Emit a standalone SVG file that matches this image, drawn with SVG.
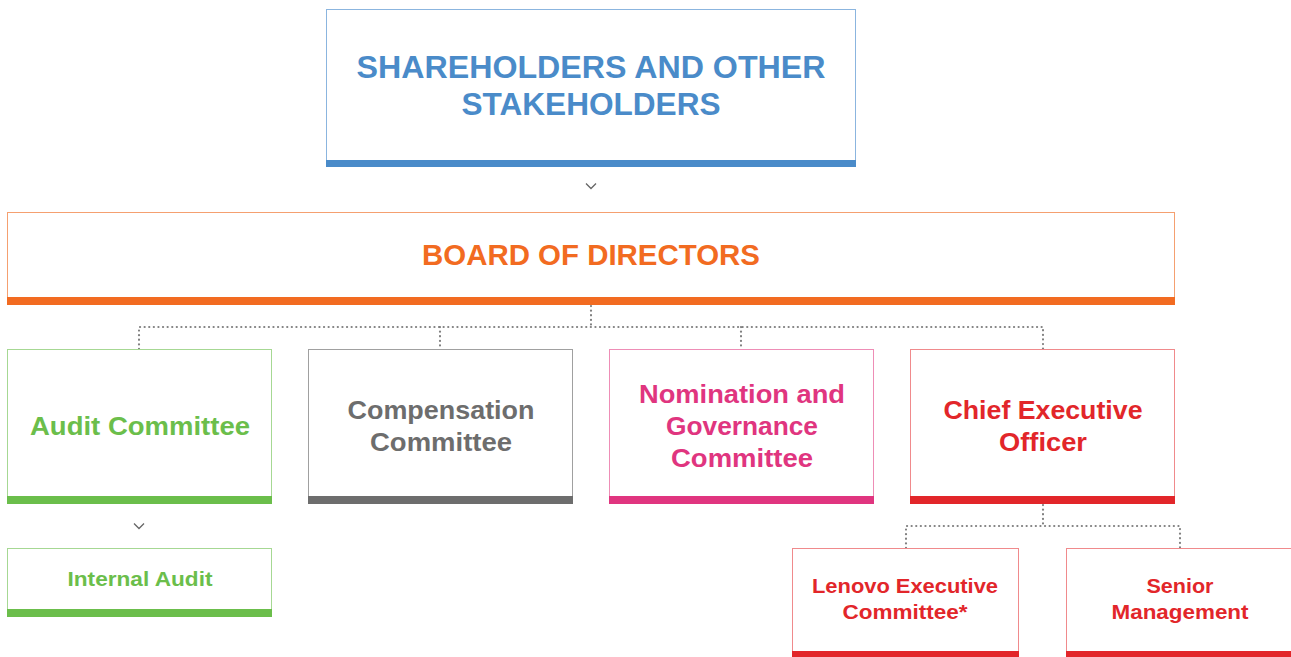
<svg xmlns="http://www.w3.org/2000/svg" width="1291" height="657" viewBox="0 0 1291 657">
<style>
text{font-family:"Liberation Sans",Arial,sans-serif;font-weight:bold;text-anchor:middle}
.dot{fill:none;stroke:#808080;stroke-width:2.2;stroke-dasharray:0.1 4.5;stroke-linecap:round}
.chev{fill:none;stroke:#666;stroke-width:1.3}
</style>
<rect width="1291" height="657" fill="#fff"/>
<g id="connectors">
<path class="dot" d="M591 306V327M139 349V327H1043V349M440 327V349M741 327V349"/>
<path class="dot" d="M1043 505V526M906 548V526H1180V548"/>
<path class="chev" d="M586 183.5L591 188.5L596 183.5"/>
<path class="chev" d="M134 523.5L139 528.5L144 523.5"/>
</g>
<g id="shareholders">
<rect x="326.5" y="9.5" width="529" height="152" fill="#fff" stroke="#8BB5DF"/>
<rect x="326" y="160" width="530" height="7" fill="#4A8BC9"/>
<text fill="#4A8BC9" font-size="31" x="591" y="78" textLength="469" lengthAdjust="spacingAndGlyphs">SHAREHOLDERS AND OTHER</text>
<text fill="#4A8BC9" font-size="31" x="591" y="115" textLength="259" lengthAdjust="spacingAndGlyphs">STAKEHOLDERS</text>
</g>
<g id="board">
<rect x="7.5" y="212.5" width="1167" height="86" fill="#fff" stroke="#F5A070"/>
<rect x="7" y="297" width="1168" height="8" fill="#F26B21"/>
<text fill="#F26B21" font-size="29" x="591" y="265" textLength="338" lengthAdjust="spacingAndGlyphs">BOARD OF DIRECTORS</text>
</g>
<g id="audit">
<rect x="7.5" y="349.5" width="264" height="148" fill="#fff" stroke="#A6D893"/>
<rect x="7" y="496" width="265" height="8" fill="#6BBE4B"/>
<text fill="#6BBE4B" font-size="26" x="140" y="435" textLength="220" lengthAdjust="spacingAndGlyphs">Audit Committee</text>
</g>
<g id="compensation">
<rect x="308.5" y="349.5" width="264" height="148" fill="#fff" stroke="#A0A0A0"/>
<rect x="308" y="496" width="265" height="8" fill="#6D6D6D"/>
<text fill="#6D6D6D" font-size="26" x="441" y="419" textLength="187" lengthAdjust="spacingAndGlyphs">Compensation</text>
<text fill="#6D6D6D" font-size="26" x="441" y="451" textLength="142" lengthAdjust="spacingAndGlyphs">Committee</text>
</g>
<g id="nomination">
<rect x="609.5" y="349.5" width="264" height="148" fill="#fff" stroke="#EE8DB6"/>
<rect x="609" y="496" width="265" height="8" fill="#E0357F"/>
<text fill="#E0357F" font-size="26" x="742" y="403" textLength="206" lengthAdjust="spacingAndGlyphs">Nomination and</text>
<text fill="#E0357F" font-size="26" x="742" y="435" textLength="152" lengthAdjust="spacingAndGlyphs">Governance</text>
<text fill="#E0357F" font-size="26" x="742" y="467" textLength="142" lengthAdjust="spacingAndGlyphs">Committee</text>
</g>
<g id="ceo">
<rect x="910.5" y="349.5" width="264" height="148" fill="#fff" stroke="#F08A8C"/>
<rect x="910" y="496" width="265" height="8" fill="#E2262A"/>
<text fill="#E2262A" font-size="26" x="1043" y="419" textLength="199" lengthAdjust="spacingAndGlyphs">Chief Executive</text>
<text fill="#E2262A" font-size="26" x="1043" y="451" textLength="88" lengthAdjust="spacingAndGlyphs">Officer</text>
</g>
<g id="internal-audit">
<rect x="7.5" y="548.5" width="264" height="62" fill="#fff" stroke="#A6D893"/>
<rect x="7" y="609" width="265" height="8" fill="#6BBE4B"/>
<text fill="#6BBE4B" font-size="21" x="140" y="586" textLength="145" lengthAdjust="spacingAndGlyphs">Internal Audit</text>
</g>
<g id="lenovo-exec">
<rect x="792.5" y="548.5" width="226" height="104" fill="#fff" stroke="#F08A8C"/>
<rect x="792" y="651" width="227" height="6" fill="#E2262A"/>
<text fill="#E2262A" font-size="21" x="905" y="593" textLength="186" lengthAdjust="spacingAndGlyphs">Lenovo Executive</text>
<text fill="#E2262A" font-size="21" x="905" y="619" textLength="125" lengthAdjust="spacingAndGlyphs">Committee*</text>
</g>
<g id="senior">
<rect x="1066.5" y="548.5" width="230" height="104" fill="#fff" stroke="#F08A8C"/>
<rect x="1066" y="651" width="225" height="6" fill="#E2262A"/>
<text fill="#E2262A" font-size="21" x="1180" y="593" textLength="67" lengthAdjust="spacingAndGlyphs">Senior</text>
<text fill="#E2262A" font-size="21" x="1180" y="619" textLength="137" lengthAdjust="spacingAndGlyphs">Management</text>
</g>
</svg>
